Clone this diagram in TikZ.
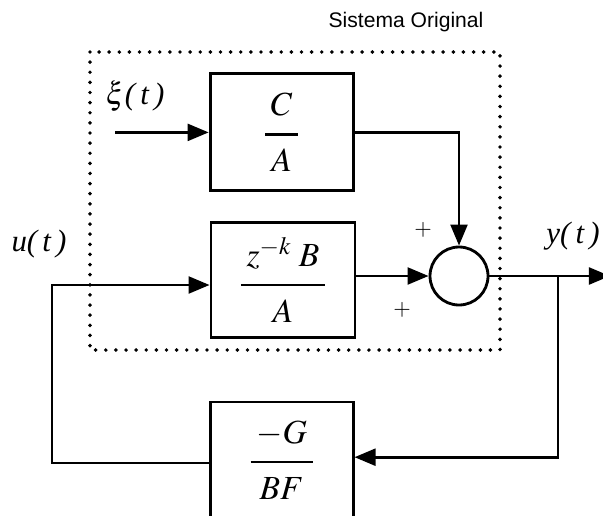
\documentclass[tikz,border=0pt]{standalone}
\usepackage{amsmath}
\usepackage{mathptmx}
\usepackage{fontspec}
\usepackage{tikz}
\usetikzlibrary{arrows.meta}
\setmainfont{Liberation Serif}
\newfontfamily\titlefont{Liberation Sans}
\newcommand{\bloquefrac}[2]{\genfrac{}{}{1.7pt}{0}{\raisebox{3pt}{$\mkern3mu#1\mkern3mu$}}{\raisebox{-4pt}{$\mkern3mu#2\mkern3mu$}}}

\begin{document}
\begin{tikzpicture}[x=1cm,y=1cm,
    line width=2pt,
    bloque/.style={draw, rectangle, inner sep=0pt, font=\fontsize{24}{28}\selectfont},
    suma/.style={draw, circle, minimum size=1.45cm, inner sep=0pt},
    flecha/.style={-{Triangle[length=15pt,width=12pt]}},
    senal/.style={font=\fontsize{22}{26}\selectfont\itshape}]

      % marco de la pagina
      \useasboundingbox (0,0) rectangle (15.075,-12.875);

      % Sistema original (punteado)
      \draw[line width=2.8pt, dash pattern=on 0pt off 7.2pt, line cap=round] (2.25,-1.3) rectangle (12.5,-8.75);
      \node[font=\fontsize{15}{18}\selectfont\titlefont] (titulo) at (10.15,-0.55) {Sistema Original};

      % bloques
      \node[bloque, minimum width=3.575cm, minimum height=2.925cm] (ca) at (7.04,-3.31) {$\bloquefrac{C}{A}$};
      \node[bloque, minimum width=3.6cm, minimum height=2.875cm] (bz) at (7.075,-6.99) {$\bloquefrac{z^{-k}\;B}{A}$};
      \node[bloque, minimum width=3.575cm, minimum height=2.9cm] (gf) at (7.04,-11.5) {$\bloquefrac{-G}{BF}$};
      \node[suma] (sum) at (11.475,-6.9) {};

      % senales
      \coordinate (xi) at (2.875,-3.31);
      \coordinate (yout) at (15.25,-6.9);
      \coordinate (rama) at (13.95,-6.9);
      \coordinate (ulft) at (1.3,-11.575);
      \coordinate (uarr) at (1.3,-7.125);
      \node[senal] (xilab) at (3.375,-2.4) {$\xi$(\,t\,)};
      \node[senal] (ulab) at (0.975,-6.1) {u(\,t\,)};
      \node[senal] (ylab) at (14.325,-5.9) {y(\,t\,)};
      \node[font=\fontsize{16}{18}\selectfont] (mas1) at (10.575,-5.75) {$+$};
      \node[font=\fontsize{16}{18}\selectfont] (mas2) at (10.05,-7.75) {$+$};

      % conexiones
      \draw[flecha] (xi) -- (ca.west);
      \draw[flecha] (ca.east) -| (sum.north);
      \draw[flecha] (bz.east |- sum.west) -- (sum.west);
      \draw[flecha] (sum.east) -- (yout);
      \draw[flecha] (rama) |- ([yshift=2pt]gf.east);
      \draw[flecha] (gf.west |- ulft) -- (ulft) -- (uarr) -- (uarr -| bz.west);

\end{tikzpicture}
\end{document}
